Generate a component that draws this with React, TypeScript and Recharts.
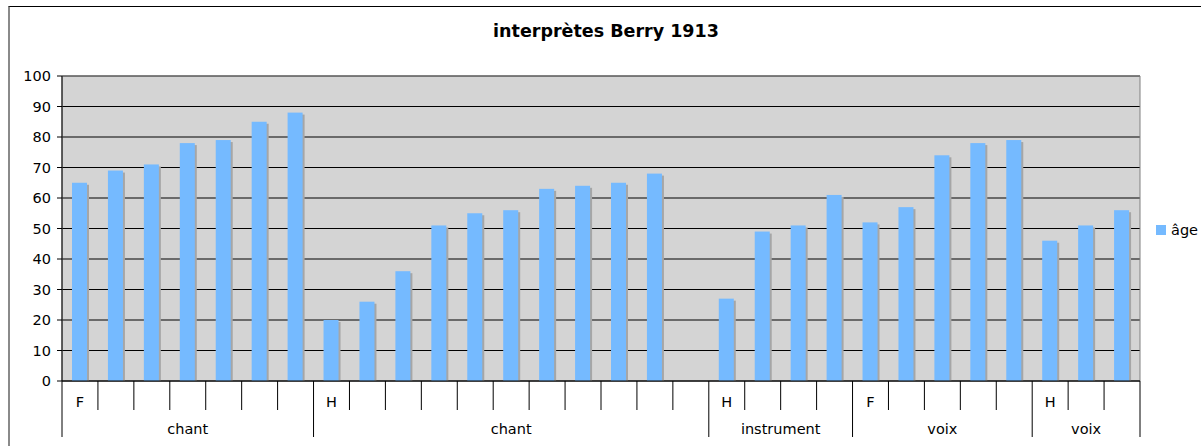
import React from "react"
import {
  BarChart, Bar, XAxis, YAxis, CartesianGrid, Legend, ReferenceArea,
} from "recharts"

// groupes d'interprètes (catégorie, sexe) et âges
const groupNames = ["chant", "chant", "instrument", "voix", "voix"]
const groupSex = ["F", "H", "H", "F", "H"]
const chantF = [65, 69, 71, 78, 79, 85, 88]
const chantH = [20, 26, 36, 51, 55, 56, 63, 64, 65, 68, null]
const instrumentH = [27, 49, 51, 61]
const voixF = [52, 57, 74, 78, 79]
const voixH = [46, 51, 56]
const yTicks = [0, 10, 20, 30, 40, 50, 60, 70, 80, 90, 100]

const groupAges = [chantF, chantH, instrumentH, voixF, voixH]

type Row = { id: string; age: number | null; sex: string; group: string; first: boolean; len: number }

const data: Row[] = []
groupAges.forEach((ages, g) => {
  ages.forEach((age, i) => {
    data.push({
      id: `${g}-${i}`,
      age,
      sex: i === 0 ? groupSex[g] : "",
      group: groupNames[g],
      first: i === 0,
      len: ages.length,
    })
  })
})

const W = 1201
const H = 446
const PLOT_LEFT = 62
const PLOT_RIGHT = 1140
const PLOT_TOP = 76
const PLOT_BOTTOM = 381
const AXIS_H = 56
const BAND = (PLOT_RIGHT - PLOT_LEFT) / data.length

const BLUE = "#75baff"
const FONT = "DejaVu Sans, Verdana, sans-serif"
const FS = 14.5

function ShadowBar(props: any) {
  const { x, y, width, height } = props
  if (!height || height <= 0) return null
  return (
    <g>
      <rect x={x + 2} y={y + 2} width={width} height={height - 2} fill="#a6a6a6" />
      <rect x={x} y={y} width={width} height={height} fill={BLUE} />
    </g>
  )
}

function CatTick(props: any) {
  const { x, y, payload } = props
  const idx = payload.index
  const row = data[idx]
  if (!row) return null
  const left = x - BAND / 2
  return (
    <g>
      <line x1={left} x2={left} y1={y} y2={y + (row.first ? AXIS_H : 29)} stroke="#000" />
      {idx === data.length - 1 && (
        <line x1={x + BAND / 2} x2={x + BAND / 2} y1={y} y2={y + AXIS_H} stroke="#000" />
      )}
      {row.sex && (
        <text x={x} y={y + 25.5} textAnchor="middle" fontSize={FS} fontFamily={FONT} fill="#000">
          {row.sex}
        </text>
      )}
      {row.first && (
        <text x={left + (row.len * BAND) / 2} y={y + 53} textAnchor="middle" fontSize={FS} fontFamily={FONT} fill="#000">
          {row.group}
        </text>
      )}
    </g>
  )
}

export default function App() {
  return (
    <div style={{ position: "absolute", left: 0, top: 0, width: W, height: H, overflow: "hidden", background: "#fff", fontFamily: FONT }}>
      <div style={{ position: "absolute", left: 8, top: 6, width: 1400, height: 600, borderTop: "1px solid #000", borderLeft: "2px solid #8a8a8a" }} />
      <div style={{ position: "absolute", left: 0, top: 21, width: 1212, textAlign: "center", fontWeight: "bold", fontSize: 17.5, lineHeight: "20px", color: "#000" }}>
        interprètes Berry 1913
      </div>
      <div style={{ position: "absolute", left: 0, top: 0 }}>
        <BarChart
          width={W}
          height={H}
          data={data}
          margin={{ top: PLOT_TOP, left: 8, right: W - PLOT_RIGHT, bottom: H - PLOT_BOTTOM - AXIS_H }}
          barSize={15}
        >
          <CartesianGrid vertical={false} stroke="#000" fill="#d4d4d4" fillOpacity={1} />
          <XAxis
            dataKey="id"
            height={AXIS_H}
            interval={0}
            tickLine={false}
            tickSize={0}
            tickMargin={0}
            axisLine={{ stroke: "#000" }}
            tick={<CatTick />}
          />
          <YAxis
            width={PLOT_LEFT - 8}
            domain={[0, 100]}
            ticks={yTicks}
            interval={0}
            tickSize={5}
            tickMargin={6}
            axisLine={{ stroke: "#000" }}
            tickLine={{ stroke: "#000" }}
            tick={{ fill: "#000", fontSize: FS, fontFamily: FONT }}
          />
          <ReferenceArea y1={0} y2={100} fill="none" stroke="#808080" ifOverflow="visible" />
          <Legend
            layout="vertical"
            align="center"
            verticalAlign="middle"
            wrapperStyle={{ left: 1156, top: 222, width: "auto" }}
            content={(p: any) => (
              <div>
                {(p.payload || []).map((e: any) => (
                  <div key={e.value} style={{ display: "flex", alignItems: "center", fontSize: FS, fontFamily: FONT, lineHeight: "16px", color: "#000" }}>
                    <span style={{ display: "inline-block", width: 10, height: 10, background: BLUE, marginRight: 5 }} />
                    {e.value}
                  </div>
                ))}
              </div>
            )}
          />
          <Bar dataKey="age" name="âge" fill={BLUE} shape={<ShadowBar />} isAnimationActive={false} />
        </BarChart>
      </div>
    </div>
  )
}
